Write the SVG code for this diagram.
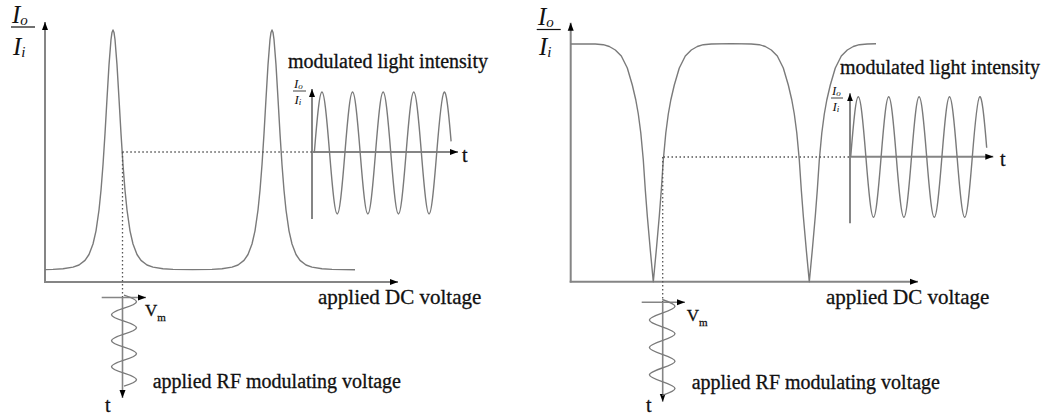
<svg xmlns="http://www.w3.org/2000/svg" width="1057" height="418" viewBox="0 0 1057 418">
<defs>
<style>
.ax{stroke:#858585;stroke-width:2;fill:none}
.cv{stroke:#7a7a7a;stroke-width:1.4;fill:none;stroke-linejoin:round}
.dot{stroke:#555;stroke-width:1.3;stroke-dasharray:1.5 2.5;fill:none}
.bar{stroke:#111;stroke-width:1.2}
.lbl{font-family:"Liberation Serif","Times New Roman",serif;font-size:20px;fill:#111;stroke:#111;stroke-width:0.3}
.dc{font-size:21px}
.big{font-family:"Liberation Serif","Times New Roman",serif;font-size:25px;font-style:italic;fill:#111}
.sub{font-size:15px}
.sm{font-family:"Liberation Serif","Times New Roman",serif;font-size:13px;font-style:italic;fill:#111}
.smsub{font-size:9px}
</style>
<marker id="arr" markerUnits="userSpaceOnUse" markerWidth="8" markerHeight="7" refX="8" refY="3.5" orient="auto" viewBox="0 0 8 7"><path d="M0,0.5 L8,3.5 L0,6.5 z" fill="#000"/></marker>
</defs>
<rect width="1057" height="418" fill="#fff"/>

<g id="left-panel">
  <g id="left-axes">
    <line class="ax" x1="45" y1="283" x2="45" y2="22" marker-end="url(#arr)"/>
    <line class="ax" x1="44" y1="282" x2="398" y2="282" marker-end="url(#arr)"/>
  </g>
  <g id="left-ylabel">
    <text class="big" x="12" y="22.5">I<tspan class="sub" dy="2">o</tspan></text>
    <line class="bar" x1="11" y1="27" x2="35" y2="27"/>
    <text class="big" x="13" y="55">I<tspan class="sub" dy="2">i</tspan></text>
  </g>
  <polyline id="left-curve" class="cv" points="45,269.6 53,269.4 63,268.7 73,267.1 79,265 85,260.4 89,254.5 93,244 96,230.8 99,210 101,190.2 103,164.8 105,133.6 107,98.7 109,64.9 111,39.5 112,32.4 113,30 114,32.4 115,39.5 117,64.9 119,98.7 121,133.6 123,164.8 125,190.2 127,210 130,230.8 133,244 137,254.5 141,260.4 147,265 153,267.1 163,268.7 173,269.4 192.5,269.6 212,269.4 222,268.7 232,267.1 238,265 244,260.4 248,254.5 252,244 255,230.8 258,210 260,190.2 262,164.8 264,133.6 266,98.7 268,64.9 270,39.5 271,32.4 272,30 273,32.4 274,39.5 276,64.9 278,98.7 280,133.6 282,164.8 284,190.2 286,210 289,230.8 292,244 296,254.5 300,260.4 306,265 312,267.1 322,268.7 332,269.4 355,269.7"/>
  <text class="lbl dc" x="318" y="304">applied DC voltage</text>
  <g id="left-inset">
    <line class="ax" x1="312" y1="219" x2="312" y2="89" marker-end="url(#arr)"/>
    <line class="ax" x1="312" y1="152" x2="458" y2="152" marker-end="url(#arr)"/>
    <path class="cv" d="M314.3,153 C320.8,71.7 323.1,71.7 329.6,153 S338.4,234.3 344.9,153 S353.7,71.7 360.2,153 S369,234.3 375.5,153 S384.3,71.7 390.8,153 S399.6,234.3 406.1,153 S414.9,71.7 421.4,153 S430.2,234.3 436.7,153 C442.9,75.8 445.3,71.9 451.1,141.4"/>
    <text class="sm" x="294" y="88">I<tspan class="smsub" dy="1">o</tspan></text>
    <line class="bar" x1="293" y1="91" x2="306" y2="91" style="stroke-width:0.8"/>
    <text class="sm" x="294.5" y="104">I<tspan class="smsub" dy="1">i</tspan></text>
    <text class="lbl" x="462" y="162">t</text>
    <text class="lbl" x="288" y="68">modulated light intensity</text>
  </g>
  <g id="left-rf">
    <line class="ax" x1="122.5" y1="297" x2="122.5" y2="398" marker-end="url(#arr)" style="stroke-width:1.6"/>
    <line class="ax" x1="101.7" y1="297.5" x2="146" y2="297.5" marker-end="url(#arr)" style="stroke-width:1.6"/>
    <path class="cv" d="M124,295.2 C140.67,300.72 140.67,302.68 124,308.2 S107.33,315.68 124,321.2 S140.67,328.68 124,334.2 S107.33,341.68 124,347.2 S140.67,354.68 124,360.2 S107.33,367.68 124,373.2 S140.67,380.68 124,386.2"/>
    <text class="lbl" x="145" y="316" style="font-size:17px">V<tspan dy="5" style="font-size:11px">m</tspan></text>
    <text class="lbl" x="105" y="412">t</text>
    <text class="lbl" x="152.7" y="388">applied RF modulating voltage</text>
  </g>
</g>

<g id="right-panel">
  <g id="right-axes">
    <line class="ax" x1="570.7" y1="282.5" x2="570.7" y2="22.7" marker-end="url(#arr)"/>
    <line class="ax" x1="569.7" y1="281.7" x2="918" y2="281.7" marker-end="url(#arr)"/>
  </g>
  <g id="right-ylabel">
    <text class="big" x="538" y="25">I<tspan class="sub" dy="2">o</tspan></text>
    <line class="bar" x1="536.7" y1="29.5" x2="560.7" y2="29.5"/>
    <text class="big" x="539" y="55">I<tspan class="sub" dy="2">i</tspan></text>
  </g>
  <polyline id="right-curve" class="cv" points="570.7,44 595.3,44 603.3,44.7 609.3,46.5 615.3,50 621.3,56 627.3,68 632.3,85 635.8,100 638.3,114 640.8,133 643.3,160 645.3,190 647.3,216 650.3,250 653.3,281.7 656.3,250 659.3,216 661.3,190 663.3,160 665.8,133 668.3,114 670.8,100 674.3,85 679.3,68 685.3,56 691.3,50 697.3,46.5 703.3,44.7 711.3,44 731.3,43.6 751.3,44 759.3,44.7 765.3,46.5 771.3,50 777.3,56 783.3,68 788.3,85 791.8,100 794.3,114 796.8,133 799.3,160 801.3,190 803.3,216 806.3,250 809.3,281.7 812.3,250 815.3,216 817.3,190 819.3,160 821.8,133 824.3,114 826.8,100 830.3,85 835.3,68 841.3,56 847.3,50 853.3,46.5 859.3,44.7 867.3,44 876,43.8"/>
  <text class="lbl dc" x="826" y="304">applied DC voltage</text>
  <g id="right-inset">
    <line class="ax" x1="850" y1="223.3" x2="850" y2="93.3" marker-end="url(#arr)"/>
    <line class="ax" x1="850" y1="156.7" x2="993.3" y2="156.7" marker-end="url(#arr)"/>
    <path class="cv" d="M850.7,157 C857.15,76.6 859.45,76.6 865.9,157 S874.65,237.4 881.1,157 S889.85,76.6 896.3,157 S905.05,237.4 911.5,157 S920.25,76.6 926.7,157 S935.45,237.4 941.9,157 S950.65,76.6 957.1,157 S965.85,237.4 972.3,157 C978.5,79.8 980.9,76.7 986.7,147.7"/>
    <text class="sm" x="832" y="95">I<tspan class="smsub" dy="1">o</tspan></text>
    <line class="bar" x1="831" y1="98" x2="843" y2="98" style="stroke-width:0.8"/>
    <text class="sm" x="832.5" y="111">I<tspan class="smsub" dy="1">i</tspan></text>
    <text class="lbl" x="1000" y="166">t</text>
    <text class="lbl" x="840" y="74">modulated light intensity</text>
  </g>
  <g id="right-rf">
    <line class="ax" x1="662.7" y1="302" x2="662.7" y2="401.7" marker-end="url(#arr)" style="stroke-width:1.6"/>
    <line class="ax" x1="641.7" y1="302.3" x2="685" y2="302.3" marker-end="url(#arr)" style="stroke-width:1.6"/>
    <path class="cv" d="M662.2,299.5 C679.27,305.31 679.27,307.39 662.2,313.2 S645.13,321.09 662.2,326.9 S679.27,334.79 662.2,340.6 S645.13,348.49 662.2,354.3 S679.27,362.19 662.2,368 S645.13,375.89 662.2,381.7 S679.27,389.59 662.2,395.4"/>
    <text class="lbl" x="686.7" y="320.7" style="font-size:17px">V<tspan dy="5" style="font-size:11px">m</tspan></text>
    <text class="lbl" x="646" y="411.7">t</text>
    <text class="lbl" x="691.7" y="389.3">applied RF modulating voltage</text>
  </g>
</g>

<g id="connectors">
  <polyline class="dot" points="122.3,152 312,152"/>
  <polyline class="dot" points="122.5,152 122.5,297"/>
  <polyline class="dot" points="663.5,157 850,157"/>
  <polyline class="dot" points="662.7,157 662.7,302"/>
</g>
</svg>
